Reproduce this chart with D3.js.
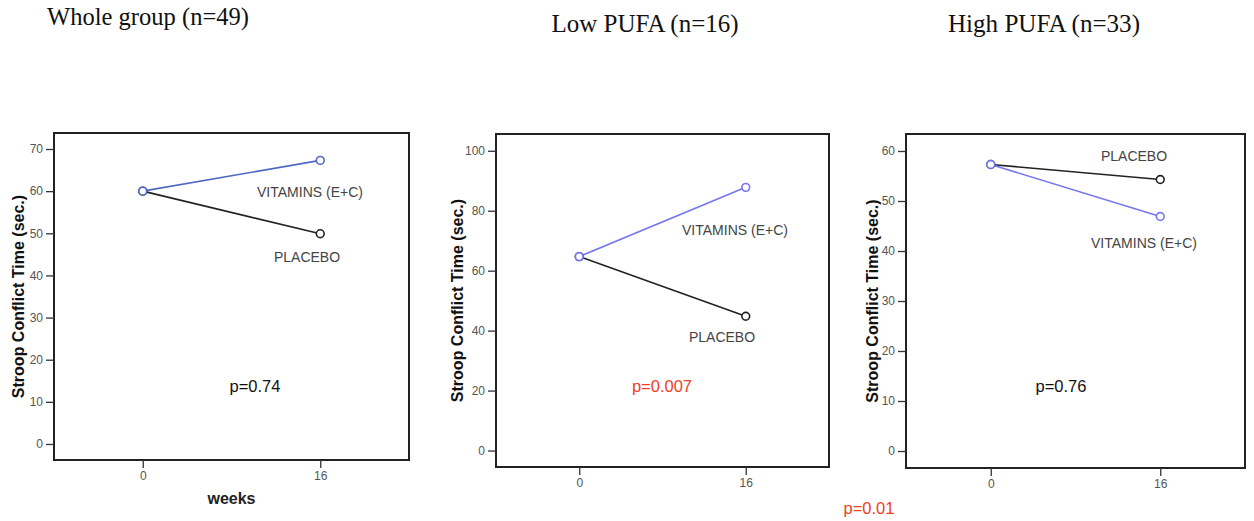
<!DOCTYPE html>
<html><head><meta charset="utf-8">
<script src="https://cdn.jsdelivr.net/npm/d3@7/dist/d3.min.js"></script>
<style>body{margin:0;background:#fff}svg{display:block}</style>
</head><body>
<svg id="c" width="1254" height="521"></svg>
<script>
// ---- data ----
const panelTitles = ["Whole group (n=49)", "Low PUFA (n=16)", "High PUFA (n=33)"];
const weeks = [0, 16];
const vitamins = [[60, 67.3], [64.7, 87.8], [57.3, 46.9]];
const placebo = [[60, 49.9], [64.7, 44.8], [57.3, 54.3]];
const yTicks = [[0,10,20,30,40,50,60,70],[0,20,40,60,80,100],[0,10,20,30,40,50,60]];
const pValues = ["p=0.74", "p=0.007", "p=0.76"];
const seriesNames = ["VITAMINS (E+C)", "PLACEBO"];
const yTitle = "Stroop Conflict Time (sec.)";
const xTitle = "weeks";
const extraP = "p=0.01";

// ---- layout ----
const layout = [
  {x0:54, x1:409, y0:133, y1:460, yDom:[-3.8,73.8], titleX:148, titleY:25, titleW:202, yLabX:-36,
   vitLab:[310,197], plaLab:[307,262], p:[255,392], pColor:"#111", xTitle:true, blue:"#5068c4"},
  {x0:496, x1:829, y0:134, y1:467, yDom:[-5.5,105.6], titleX:645, titleY:32, titleW:187, yLabX:-39,
   vitLab:[735,235], plaLab:[722,342], p:[662,392], pColor:"#f0401f", xTitle:false, blue:"#7676ee"},
  {x0:906, x1:1245, y0:134, y1:468, yDom:[-3.4,63.4], titleX:1044, titleY:32, titleW:192, yLabX:-34,
   vitLab:[1144,248], plaLab:[1134,161], p:[1061,392], pColor:"#111", xTitle:false, blue:"#7676ee"}
];
const dark = "#222";
const sans = "'Liberation Sans',Arial,sans-serif";

const svg = d3.select("#c");

layout.forEach((L, i) => {
  const x = d3.scaleLinear().domain([-8, 24]).range([L.x0, L.x1]);
  const y = d3.scaleLinear().domain(L.yDom).range([L.y1, L.y0]);
  const g = svg.append("g");

  // title
  svg.append("text").attr("x", L.titleX - L.titleW/2).attr("y", L.titleY)
    .attr("font-family","'Liberation Serif','Times New Roman',serif")
    .attr("font-size", 25).attr("fill","#111")
    .attr("textLength", L.titleW).attr("lengthAdjust","spacingAndGlyphs")
    .text(panelTitles[i]);

  // frame
  g.append("rect").attr("x", L.x0).attr("y", L.y0).attr("width", L.x1-L.x0).attr("height", L.y1-L.y0)
    .attr("fill","none").attr("stroke", dark).attr("stroke-width", 2);

  // axes
  const ya = g.append("g").attr("transform", `translate(${L.x0},0)`)
    .call(d3.axisLeft(y).tickValues(yTicks[i]).tickSize(8).tickPadding(3));
  const xa = g.append("g").attr("transform", `translate(0,${L.y1})`)
    .call(d3.axisBottom(x).tickValues(weeks).tickSize(8).tickPadding(3));
  [ya, xa].forEach(a => {
    a.select(".domain").remove();
    a.selectAll(".tick line").attr("stroke","#333").attr("stroke-width",1.3);
    a.selectAll(".tick text").attr("fill","#555").attr("font-size",12)
      .attr("font-family", sans);
  });

  // axis titles
  g.append("text").attr("transform", `translate(${L.x0 + L.yLabX},${(L.y0+L.y1)/2}) rotate(-90)`)
    .attr("text-anchor","middle").attr("dominant-baseline","central")
    .attr("font-family", sans).attr("font-weight","bold")
    .attr("font-size", 16).attr("fill","#111").text(yTitle);
  if (L.xTitle) {
    g.append("text").attr("x", (L.x0+L.x1)/2).attr("y", 504).attr("text-anchor","middle")
      .attr("font-family", sans).attr("font-weight","bold")
      .attr("font-size", 16).attr("fill","#222").text(xTitle);
  }

  // lines
  const line = d3.line().x((d,j) => x(weeks[j])).y(d => y(d));
  [[placebo[i], dark], [vitamins[i], L.blue]].forEach(([vals, col]) => {
    g.append("path").datum(vals).attr("d", line).attr("fill","none")
      .attr("stroke", col).attr("stroke-width", 1.6);
  });
  [[placebo[i], dark], [vitamins[i], L.blue]].forEach(([vals, col]) => {
    g.selectAll(null).data(vals).enter().append("circle")
      .attr("cx", (d,j) => x(weeks[j])).attr("cy", d => y(d)).attr("r", 3.9)
      .attr("fill","#fff").attr("stroke", col).attr("stroke-width", 1.6);
  });

  // series labels
  const lab = (pos, t) => g.append("text").attr("x", pos[0]).attr("y", pos[1])
    .attr("text-anchor","middle").attr("font-family", sans)
    .attr("font-size", 14).attr("fill","#444").text(t);
  lab(L.vitLab, seriesNames[0]);
  lab(L.plaLab, seriesNames[1]);

  // p value
  g.append("text").attr("x", L.p[0]).attr("y", L.p[1]).attr("text-anchor","middle")
    .attr("font-family", sans).attr("font-size", 16.5)
    .attr("fill", L.pColor).text(pValues[i]);
});

svg.append("text").attr("x", 869).attr("y", 514).attr("text-anchor","middle")
  .attr("font-family", sans).attr("font-size", 16.5)
  .attr("fill", "#f0401f").text(extraP);
</script>
</body></html>
